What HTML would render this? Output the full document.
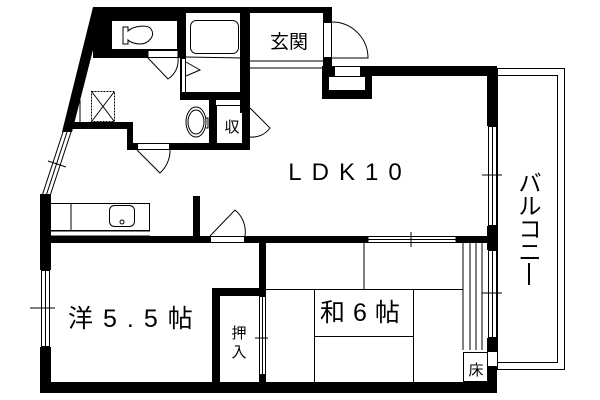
<!DOCTYPE html>
<html><head><meta charset="utf-8"><style>
html,body{margin:0;padding:0;background:#fff;}
svg{display:block;}
text{font-family:"Liberation Sans","Noto Sans CJK JP",sans-serif;fill:#000;}
</style></head><body>
<svg width="600" height="400" viewBox="0 0 600 400" xmlns="http://www.w3.org/2000/svg">
<rect width="600" height="400" fill="#fff"/>
<g fill="#000">
<rect x="93" y="7" width="239" height="6"/>
<rect x="323" y="7" width="9" height="15"/>
<rect x="323" y="58" width="9" height="10"/>
<rect x="322" y="66" width="50" height="33"/>
<rect x="322" y="66" width="175" height="10"/>
<rect x="487" y="66" width="10" height="60"/>
<rect x="487" y="226" width="10" height="24"/>
<rect x="487" y="338" width="10" height="14"/>
<rect x="487" y="366" width="10" height="27"/>
<rect x="40" y="382" width="457" height="11"/>
<rect x="40" y="194" width="11" height="76"/>
<rect x="40" y="347" width="11" height="46"/>
<rect x="50" y="236" width="160" height="7"/>
<rect x="245" y="236" width="123" height="7"/>
<rect x="456" y="236" width="31" height="7"/>
<rect x="193" y="196" width="7" height="40"/>
<rect x="259" y="243" width="7" height="47"/>
<rect x="212" y="288" width="54" height="8"/>
<rect x="212" y="288" width="8" height="95"/>
<rect x="259" y="375" width="7" height="8"/>
<polygon points="93,7 104,7 72,132 62,132"/>
<rect x="93" y="13" width="18" height="45"/>
<rect x="93" y="50" width="55" height="8"/>
<rect x="178" y="13" width="8" height="45"/>
<rect x="178" y="50" width="8" height="8"/>
<rect x="243" y="7" width="7" height="143"/>
<rect x="180" y="92" width="70" height="8"/>
<rect x="180" y="58" width="6" height="42"/>
<rect x="70" y="122" width="63" height="7"/>
<rect x="127" y="122" width="6" height="28"/>
<rect x="127" y="143" width="10" height="7"/>
<rect x="170" y="143" width="80" height="7"/>
<rect x="209" y="100" width="7" height="50"/>
<rect x="243" y="100" width="7" height="8"/>
<rect x="243" y="137" width="7" height="13"/>
<rect x="240" y="13" width="10" height="100"/>
<rect x="111" y="13" width="67" height="7"/>
</g>
<g fill="none" stroke="#000" stroke-width="1">
<line x1="250" y1="61" x2="323" y2="61"/>
<line x1="250" y1="68" x2="323" y2="68"/>
<rect x="323.5" y="22.5" width="8" height="35" fill="#fff"/>
<path d="M332,22 A36,36 0 0 1 368,58 L332,58"/>
<rect x="335" y="67" width="25" height="9" fill="#fff" stroke="none"/>
<rect x="329" y="77" width="36" height="13" fill="#fff" stroke="none"/>
<rect x="111.5" y="20.5" width="66" height="29"/>
<path d="M123,27 L128,27 L128,31 C133,26 148,24 151,29 C156,36 148,44 140,44 C135,44 130,42 128,40 L128,44 L123,44 Z"/>
<rect x="148" y="50.5" width="30" height="7" fill="#fff"/>
<path d="M148,58 L168,79 A22,22 0 0 0 178,58"/>
<rect x="190.5" y="20.5" width="48" height="33" rx="6"/>
<line x1="186" y1="57" x2="243" y2="58"/>
<rect x="181.5" y="58.5" width="4" height="34" fill="#fff"/>
<path d="M186,62 L200,70 L186,76"/>
<ellipse cx="196" cy="122" rx="10" ry="15"/>
<ellipse cx="196" cy="122" rx="8" ry="12"/>
<path d="M206,118 L208,118 L208,128 L206,128"/>
<rect x="216.5" y="105.5" width="26" height="38"/>
<path d="M250,108 L270,128 A22,22 0 0 1 250,137"/>
<rect x="91.5" y="91.5" width="23" height="30" stroke-dasharray="2,1"/>
<line x1="92" y1="92" x2="114" y2="121"/>
<line x1="114" y1="92" x2="92" y2="121"/>
<rect x="137.5" y="143.5" width="32" height="6" fill="#fff"/>
<path d="M137,150 L160,173 A30,30 0 0 0 170,150"/>
<line x1="63" y1="132" x2="42" y2="196"/>
<line x1="67" y1="132" x2="46" y2="196"/>
<line x1="71" y1="132" x2="50" y2="196"/>
<line x1="48" y1="161" x2="66" y2="167"/>
<line x1="80" y1="100" x2="80" y2="122"/>
<rect x="50.5" y="203.5" width="99" height="27"/>
<line x1="71" y1="203" x2="71" y2="231"/>
<line x1="50" y1="231" x2="150" y2="231"/>
<line x1="50" y1="236" x2="150" y2="236"/>
<rect x="109.5" y="205.5" width="25" height="21" rx="5"/>
<circle cx="122" cy="222" r="2"/>
<rect x="210.5" y="236.5" width="34" height="6" fill="#fff"/>
<path d="M210,236 L235,210 A28,28 0 0 1 245,236"/>
<rect x="41.5" y="270.5" width="8" height="76"/>
<line x1="45.5" y1="270" x2="45.5" y2="347"/>
<line x1="30" y1="308" x2="55" y2="308"/>
<rect x="259.5" y="296.5" width="6" height="78"/>
<line x1="262.5" y1="296" x2="262.5" y2="375"/>
<line x1="255" y1="338" x2="268" y2="338"/>
<rect x="488.5" y="126.5" width="8" height="99"/>
<line x1="492.5" y1="126" x2="492.5" y2="226"/>
<line x1="482" y1="175" x2="502" y2="175"/>
<rect x="488.5" y="250.5" width="8" height="87"/>
<line x1="492.5" y1="250" x2="492.5" y2="338"/>
<line x1="482" y1="293" x2="502" y2="293"/>
<rect x="368" y="236.5" width="88" height="6"/>
<line x1="368" y1="239.5" x2="456" y2="239.5"/>
<line x1="411" y1="232" x2="411" y2="247"/>
<line x1="463" y1="243" x2="463" y2="350"/>
<line x1="470" y1="243" x2="470" y2="350"/>
<line x1="476" y1="243" x2="476" y2="350"/>
<line x1="482" y1="243" x2="482" y2="350"/>
<rect x="463.5" y="352.5" width="24" height="29"/>
<line x1="364" y1="243" x2="364" y2="289"/>
<line x1="266" y1="289.5" x2="463" y2="289.5"/>
<line x1="314.5" y1="289" x2="314.5" y2="382"/>
<line x1="413.5" y1="289" x2="413.5" y2="382"/>
<line x1="314" y1="336.5" x2="413" y2="336.5"/>
<rect x="497.5" y="68.5" width="67" height="301"/>
<rect x="497.5" y="75.5" width="60" height="287"/>
</g>
<g>
<text x="289" y="48" font-size="19" text-anchor="middle">玄関</text>
<text x="232" y="132" font-size="15" text-anchor="middle">収</text>
<text x="350" y="180" font-size="24" text-anchor="middle" letter-spacing="10">LDK10</text>
<text x="68" y="327" font-size="25" letter-spacing="10">洋5.5帖</text>
<text x="320" y="321" font-size="25" letter-spacing="8">和6帖</text>
<text x="239" y="338" font-size="15" text-anchor="middle">押</text>
<text x="239" y="357" font-size="15" text-anchor="middle">入</text>
<text x="476" y="375" font-size="15" text-anchor="middle">床</text>
<text x="530" y="191" font-size="23" text-anchor="middle">バ</text>
<text x="530" y="214" font-size="23" text-anchor="middle">ル</text>
<text x="530" y="237" font-size="23" text-anchor="middle">コ</text>
<text x="530" y="260" font-size="23" text-anchor="middle">ニ</text>
<rect x="528" y="263" width="2" height="22" fill="#000"/>
</g>
</svg>
</body></html>
